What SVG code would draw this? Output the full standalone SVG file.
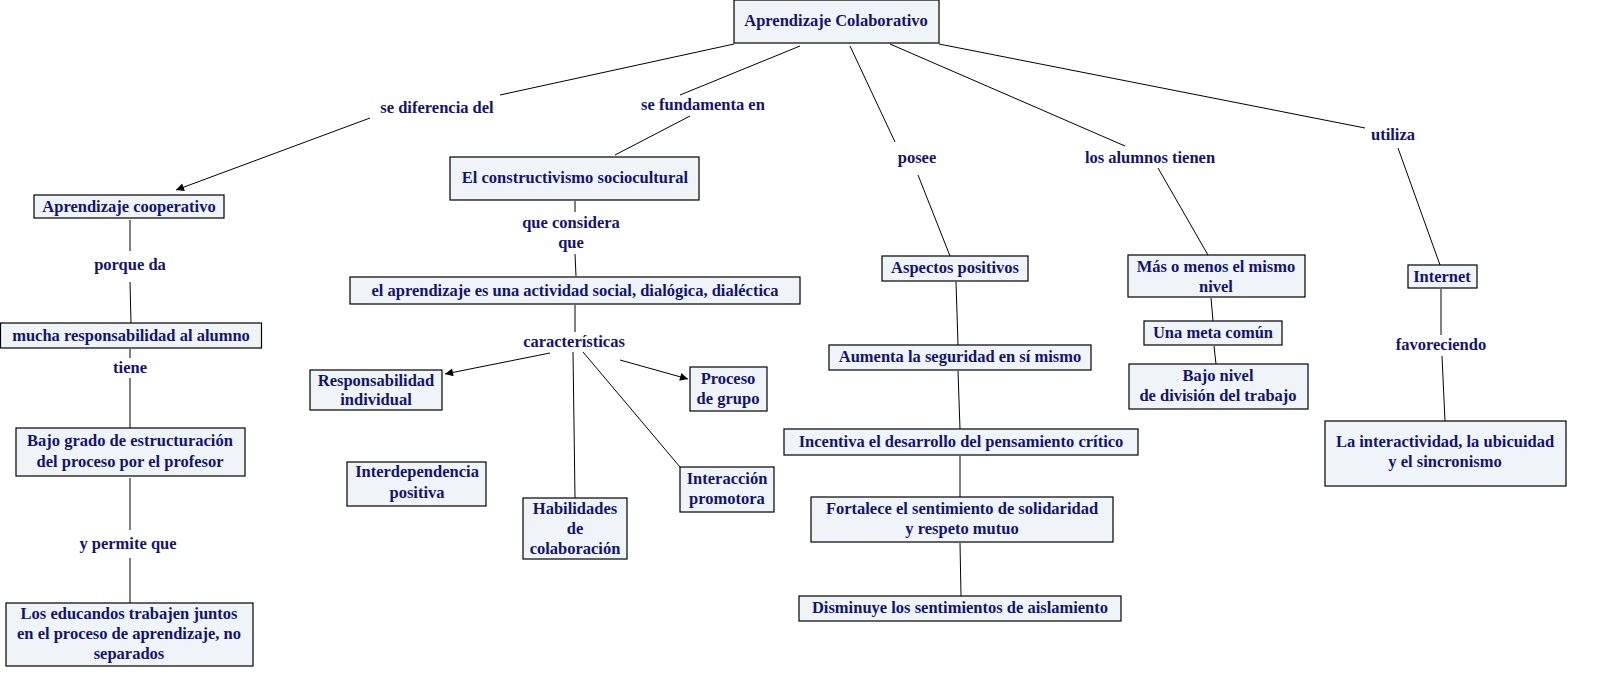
<svg xmlns="http://www.w3.org/2000/svg" width="1610" height="688" viewBox="0 0 1610 688">
<style>
text{font-family:"Liberation Serif","Times New Roman",serif;font-weight:bold;font-size:16.5px;fill:#14146e;text-anchor:middle}
.n rect{fill:#eef4f8;stroke:#000;stroke-width:1.2}
#c line{stroke:#000;stroke-width:1}
</style>
<defs><marker id="a" viewBox="0 0 10 10" refX="10" refY="5" markerWidth="10" markerHeight="8" markerUnits="userSpaceOnUse" orient="auto"><path d="M0,0L10,5L0,10z" fill="#000"/></marker></defs>
<rect width="1610" height="688" fill="#fff"/>
<g id="c">
<line x1="734" y1="44" x2="500" y2="95"/><line x1="370" y1="118" x2="176" y2="190" marker-end="url(#a)"/>
<line x1="800" y1="46" x2="680" y2="95"/><line x1="690" y1="116" x2="615" y2="155"/>
<line x1="850" y1="46" x2="895" y2="142"/><line x1="918" y1="175" x2="950" y2="256"/>
<line x1="890" y1="44" x2="1125" y2="146"/><line x1="1158" y1="168" x2="1208" y2="255"/>
<line x1="939" y1="44" x2="1365" y2="128"/><line x1="1398" y1="148" x2="1440" y2="265"/>
<line x1="130" y1="220" x2="130" y2="251"/><line x1="130" y1="282" x2="131" y2="323"/>
<line x1="130" y1="349" x2="130" y2="358"/><line x1="130" y1="378" x2="130" y2="428"/>
<line x1="130" y1="478" x2="130" y2="530"/><line x1="130" y1="558" x2="130" y2="603"/>
<line x1="575" y1="201" x2="575" y2="212"/><line x1="575" y1="254" x2="576" y2="276"/>
<line x1="575" y1="305" x2="575" y2="332"/>
<line x1="550" y1="353" x2="445" y2="374" marker-end="url(#a)"/>
<line x1="620" y1="360" x2="688" y2="379" marker-end="url(#a)"/>
<line x1="573" y1="352" x2="575" y2="498"/>
<line x1="583" y1="352" x2="680" y2="467"/>
<line x1="956" y1="282" x2="958" y2="345"/><line x1="958" y1="371" x2="960" y2="429"/>
<line x1="960" y1="456" x2="960" y2="497"/><line x1="960" y1="543" x2="961" y2="596"/>
<line x1="1211" y1="298" x2="1213" y2="321"/><line x1="1214" y1="346" x2="1216" y2="364"/>
<line x1="1441" y1="289" x2="1441" y2="335"/><line x1="1442" y1="356" x2="1445" y2="421"/>
</g>
<g id="labels">
<text x="437" y="113">se diferencia del</text>
<text x="703" y="110">se fundamenta en</text>
<text x="917" y="163">posee</text>
<text x="1150" y="163">los alumnos tienen</text>
<text x="1393" y="140">utiliza</text>
<text x="130" y="270">porque da</text>
<text x="130" y="373">tiene</text>
<text x="128" y="549">y permite que</text>
<text x="571" y="228">que considera</text><text x="571" y="248">que</text>
<text x="574" y="347">características</text>
<text x="1441" y="350">favoreciendo</text>
</g>
<g id="n1" class="n"><rect x="734" y="0" width="205" height="43"/><text x="836" y="26">Aprendizaje Colaborativo</text></g>
<g id="n2" class="n"><rect x="34" y="195" width="190" height="23"/><text x="129" y="212">Aprendizaje cooperativo</text></g>
<g id="n3" class="n"><rect x="0.5" y="323" width="261" height="25"/><text x="131" y="341">mucha responsabilidad al alumno</text></g>
<g id="n4" class="n"><rect x="16" y="428" width="229" height="48"/><text x="130" y="446">Bajo grado de estructuración</text><text x="130" y="467">del proceso por el profesor</text></g>
<g id="n5" class="n"><rect x="6" y="603" width="247" height="63"/><text x="129" y="619">Los educandos trabajen juntos</text><text x="129" y="639">en el proceso de aprendizaje, no</text><text x="129" y="659">separados</text></g>
<g id="n6" class="n"><rect x="450" y="157" width="249" height="43"/><text x="575" y="183">El constructivismo sociocultural</text></g>
<g id="n7" class="n"><rect x="350" y="277" width="450" height="27"/><text x="575" y="296">el aprendizaje es una actividad social, dialógica, dialéctica</text></g>
<g id="n8" class="n"><rect x="310" y="370" width="132" height="40"/><text x="376" y="386">Responsabilidad</text><text x="376" y="405">individual</text></g>
<g id="n9" class="n"><rect x="347" y="462" width="139" height="44"/><text x="417" y="477">Interdependencia</text><text x="417" y="498">positiva</text></g>
<g id="n10" class="n"><rect x="523" y="498" width="104" height="61"/><text x="575" y="514">Habilidades</text><text x="575" y="534">de</text><text x="575" y="554">colaboración</text></g>
<g id="n11" class="n"><rect x="680" y="467" width="94" height="45"/><text x="727" y="484">Interacción</text><text x="727" y="504">promotora</text></g>
<g id="n12" class="n"><rect x="690" y="367" width="77" height="44"/><text x="728" y="384">Proceso</text><text x="728" y="404">de grupo</text></g>
<g id="n13" class="n"><rect x="882" y="256" width="146" height="25"/><text x="955" y="273">Aspectos positivos</text></g>
<g id="n14" class="n"><rect x="829" y="345" width="262" height="25"/><text x="960" y="362">Aumenta la seguridad en sí mismo</text></g>
<g id="n15" class="n"><rect x="784" y="429" width="354" height="26"/><text x="961" y="447">Incentiva el desarrollo del pensamiento crítico</text></g>
<g id="n16" class="n"><rect x="811" y="497" width="302" height="45"/><text x="962" y="514">Fortalece el sentimiento de solidaridad</text><text x="962" y="534">y respeto mutuo</text></g>
<g id="n17" class="n"><rect x="799" y="596" width="322" height="25"/><text x="960" y="613">Disminuye los sentimientos de aislamiento</text></g>
<g id="n18" class="n"><rect x="1128" y="255" width="177" height="42"/><text x="1216" y="272">Más o menos el mismo</text><text x="1216" y="292">nivel</text></g>
<g id="n19" class="n"><rect x="1144" y="321" width="138" height="24"/><text x="1213" y="338">Una meta común</text></g>
<g id="n20" class="n"><rect x="1129" y="364" width="179" height="45"/><text x="1218" y="381">Bajo nivel</text><text x="1218" y="401">de división del trabajo</text></g>
<g id="n21" class="n"><rect x="1408" y="265" width="69" height="23"/><text x="1442" y="282">Internet</text></g>
<g id="n22" class="n"><rect x="1325" y="421" width="241" height="65"/><text x="1445" y="447">La interactividad, la ubicuidad</text><text x="1445" y="467">y el sincronismo</text></g>
</svg>
